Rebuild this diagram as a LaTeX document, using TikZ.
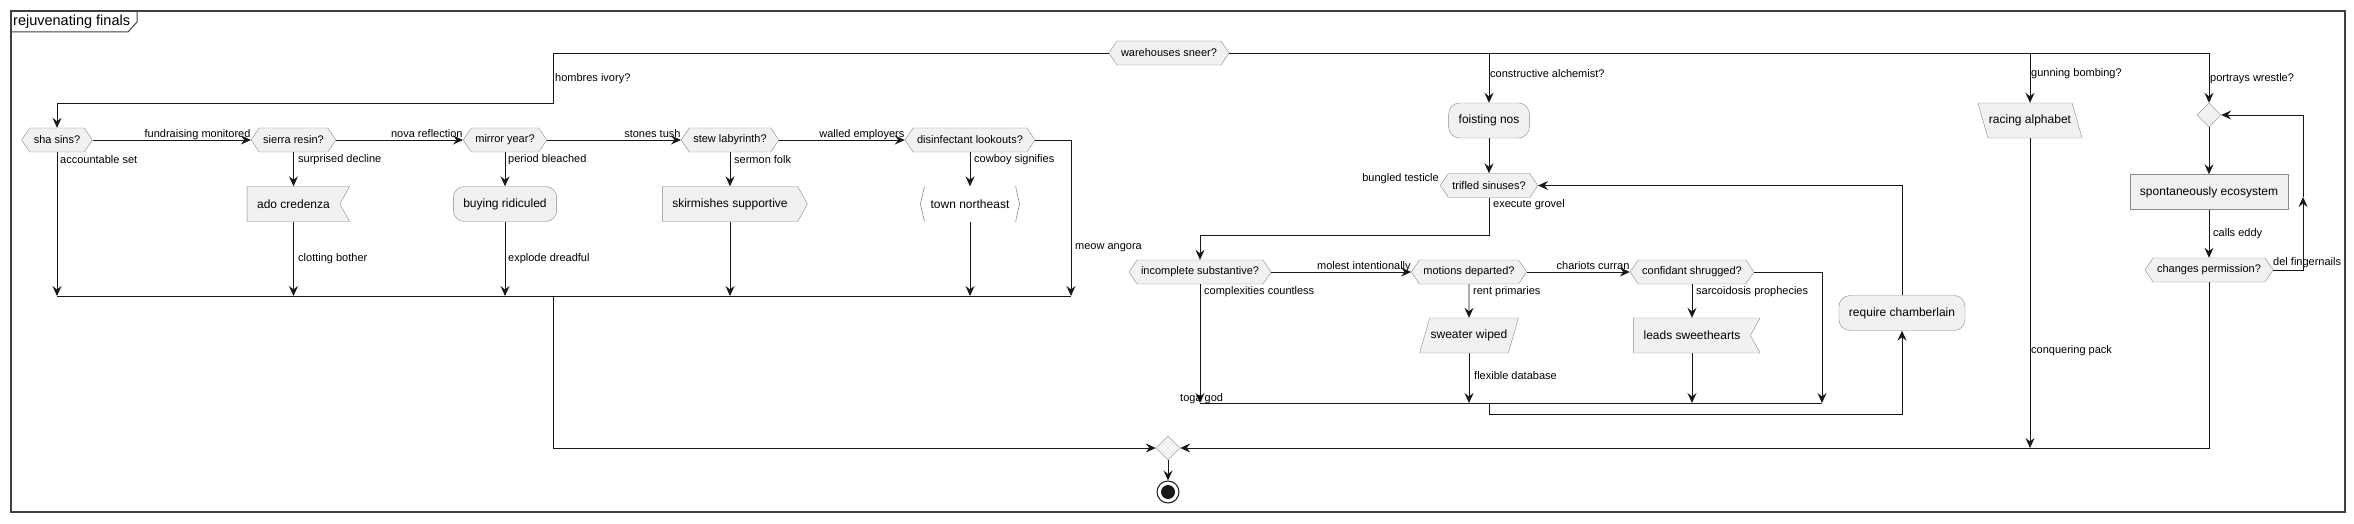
\documentclass[tikz,border=0pt]{standalone}
\usepackage{fontspec}
\setmainfont{Liberation Sans}
\usetikzlibrary{arrows.meta,shapes.symbols,shapes.geometric}
\definecolor{boxfill}{HTML}{F1F1F1}
\definecolor{boxline}{HTML}{8A8A8A}
\definecolor{ink}{HTML}{181818}
\tikzset{
  >={Stealth[length=10pt,width=9pt,inset=3.5pt]},
  flow/.style={draw=ink, line width=0.9pt},
  decision/.style={signal, signal to=west and east, signal pointer angle=112, draw=boxline, fill=boxfill,
    minimum height=24pt, inner xsep=4pt, inner ysep=1pt, font=\fontsize{11}{13}\selectfont},
  activity/.style={rectangle, rounded corners=11pt, draw=boxline, fill=boxfill, minimum height=35pt,
    inner xsep=10pt, font=\fontsize{12}{14}\selectfont},
  plainbox/.style={activity, rounded corners=0pt},
  recvbox/.style={plainbox, signal, signal to=nowhere, signal from=east, signal pointer angle=122},
  sendbox/.style={plainbox, signal, signal to=east, signal pointer angle=122},
  iobox/.style={plainbox, trapezium, minimum height=0pt, inner xsep=1pt, inner ysep=11.5pt,
    text height=9pt, text depth=3pt},
  leanright/.style={iobox, trapezium left angle=74, trapezium right angle=106},
  leanleft/.style={iobox, trapezium left angle=106, trapezium right angle=74},
  townbox/.style={rectangle, minimum height=35pt, inner xsep=10pt, font=\fontsize{12}{14}\selectfont},
  bracket/.style={draw=boxline, line width=0.6pt},
  mergediamond/.style={diamond, draw=boxline, fill=boxfill, minimum size=24pt, inner sep=0pt},
  endnode/.style={circle, draw=ink, line width=1pt, fill=white, minimum size=22pt, inner sep=0pt,
    path picture={\fill[ink] (path picture bounding box.center) circle (7pt);}},
  lbl/.style={font=\fontsize{11}{13}\selectfont, inner sep=0pt},
  edgelbl/.style={lbl, pos=1, anchor=base east, yshift=2.5pt}
}

\begin{document}
\begin{tikzpicture}[x=1pt,y=-1pt]
  \useasboundingbox (0,0) rectangle (2354,524);

  % Frame and title
  \draw[draw=black!75, line width=1.4pt] (11,11) rectangle (2345,512);
  \draw[draw=black!75, line width=1pt] (11,32) -- (128,32) -- (137,22) -- (137,11);
  \node[lbl, font=\fontsize{14.5}{16}\selectfont, anchor=west] (title) at (13,21.5) {rejuvenating finals};

  % Top switch
  \node[decision] (ws) at (1169,53) {warehouses sneer?};

  % Left branch: chain of tests
  \node[decision] (sha) at (57,140) {sha sins?};
  \node[decision] (sierra) at (293.5,140) {sierra resin?};
  \node[decision] (mirror) at (505,140) {mirror year?};
  \node[decision] (stew) at (730,140) {stew labyrinth?};
  \node[decision] (disinf) at (970,140) {disinfectant lookouts?};

  \node[recvbox] (ado) at (293.5,204) {ado credenza};
  \node[activity] (buying) at (505,204) {buying ridiculed};
  \node[sendbox] (skirm) at (730,204) {skirmishes supportive};
  \node[townbox] (town) at (970,204) {town northeast};
  \draw[bracket] ([xshift=4pt]town.north west) -- (town.west) -- ([xshift=4pt]town.south west);
  \draw[bracket] ([xshift=-4pt]town.north east) -- (town.east) -- ([xshift=-4pt]town.south east);

  \coordinate (hb) at (553,103);
  \coordinate (m1w) at (57,296);
  \coordinate (m1x) at (553,296);
  \coordinate (m1e) at (1071,296);

  \draw[flow,->] (ws.west) -| (hb) -| (sha.north);
  \node[lbl, anchor=west] (l1) at (555,79) {hombres ivory?};

  \draw[flow,->] (sha.east) -- node[edgelbl] (l2) {fundraising monitored} (sierra.west);
  \draw[flow,->] (sierra.east) -- node[edgelbl] (l3) {nova reflection} (mirror.west);
  \draw[flow,->] (mirror.east) -- node[edgelbl] (l4) {stones tush} (stew.west);
  \draw[flow,->] (stew.east) -- node[edgelbl] (l5) {walled employers} (disinf.west);
  \draw[flow,->] (disinf.east) -| (m1e);
  \node[lbl, anchor=west] (l6) at (1075,248) {meow angora};

  \draw[flow,->] (sha.south) -- (m1w);
  \node[lbl, anchor=west] (l7) at (60,160) {accountable set};
  \draw[flow,->] (sierra.south) -- (ado.north);
  \node[lbl, anchor=west] (l8) at (298,160) {surprised decline};
  \draw[flow,->] (ado.south) -- (ado.south |- m1w);
  \node[lbl, anchor=west] (l9) at (298,259) {clotting bother};
  \draw[flow,->] (mirror.south) -- (buying.north);
  \node[lbl, anchor=west] (l10) at (508,160) {period bleached};
  \draw[flow,->] (buying.south) -- (buying.south |- m1w);
  \node[lbl, anchor=west] (l11) at (508,259) {explode dreadful};
  \draw[flow,->] (stew.south) -- (skirm.north);
  \node[lbl, anchor=west] (l12) at (734,160) {sermon folk};
  \draw[flow,->] (skirm.south) -- (skirm.south |- m1w);
  \draw[flow,->] (disinf.south) -- (town.north);
  \node[lbl, anchor=west] (l13) at (974,160) {cowboy signifies};
  \draw[flow,->] (town.south) -- (town.south |- m1w);
  \draw[flow] (m1w) -- (m1e);

  % Middle branch
  \node[activity] (foisting) at (1489,120.5) {foisting nos};
  \node[decision] (trifled) at (1489,185.5) {trifled sinuses?};
  \node[decision] (incomplete) at (1200,272) {incomplete substantive?};
  \node[decision] (motions) at (1469,272) {motions departed?};
  \node[decision] (confidant) at (1692,272) {confidant shrugged?};
  \node[leanright] (sweater) at (1469,335.5) {sweater wiped};
  \node[recvbox] (leads) at (1692,335.5) {leads sweethearts};
  \node[activity] (require) at (1902,313) {require chamberlain};

  \coordinate (tb) at (1489,235);
  \coordinate (m2w) at (1200,403);
  \coordinate (m2x) at (1489,403);
  \coordinate (m2e) at (1822,403);
  \coordinate (rqb) at (1902,414);

  \draw[flow,->] (foisting.north |- ws.east) -- (foisting.north);
  \node[lbl, anchor=west] (l14) at (1490,74) {constructive alchemist?};
  \draw[flow,->] (foisting.south) -- (trifled.north);
  \node[lbl, anchor=east] (l15) at (1439,179) {bungled testicle};
  \draw[flow,->] (trifled.south) -- (tb) -| (incomplete.north);
  \node[lbl, anchor=west] (l16) at (1493,205) {execute grovel};

  \draw[flow,->] (incomplete.east) -- node[edgelbl] (l17) {molest intentionally} (motions.west);
  \draw[flow,->] (motions.east) -- node[edgelbl] (l18) {chariots curran} (confidant.west);
  \draw[flow,->] (confidant.east) -| (m2e);

  \draw[flow,->] (incomplete.south) -- (m2w);
  \node[lbl, anchor=west] (l19) at (1204,292) {complexities countless};
  \node[lbl, anchor=west] (l20) at (1180,399) {toga god};
  \draw[flow,->] (motions.south) -- (sweater.north);
  \node[lbl, anchor=west] (l21) at (1473,292) {rent primaries};
  \draw[flow,->] (sweater.south) -- (sweater.south |- m2w);
  \node[lbl, anchor=west] (l22) at (1474,376) {flexible database};
  \draw[flow,->] (confidant.south) -- (leads.north);
  \node[lbl, anchor=west] (l23) at (1696,292) {sarcoidosis prophecies};
  \draw[flow,->] (leads.south) -- (leads.south |- m2w);
  \draw[flow] (m2w) -- (m2e);

  \draw[flow,->] (m2x) |- (rqb) -- (require.south);
  \draw[flow,->] (require.north) |- (trifled.east);

  % Right branches
  \node[leanleft] (racing) at (2030,120.5) {racing alphabet};
  \node[mergediamond] (loopd) at (2209,115) {};
  \node[plainbox] (spont) at (2209,192) {spontaneously ecosystem};
  \node[decision] (changes) at (2209,270) {changes permission?};

  \coordinate (lpm) at (2303,197);

  \draw[flow,->] (racing.north |- ws.east) -- (racing.north);
  \node[lbl, anchor=west] (l24) at (2031,74) {gunning bombing?};
  \draw[flow,->] (ws.east) -| (loopd.north);
  \node[lbl, anchor=west] (l25) at (2210,79) {portrays wrestle?};
  \draw[flow,->] (loopd.south) -- (spont.north);
  \draw[flow,->] (spont.south) -- (changes.north);
  \node[lbl, anchor=west] (l26) at (2213,234) {calls eddy};
  \draw[flow,->] (changes.east) -| (lpm);
  \draw[flow,->] (lpm) |- (loopd.east);
  \node[lbl, anchor=west] (l27) at (2273,263) {del fingernails};

  % Final merge
  \node[mergediamond] (endm) at (1168,448) {};
  \node[endnode] (endn) at (1168,492) {};

  \draw[flow,->] (racing.south) -- (racing.south |- endm.east);
  \node[lbl, anchor=west] (l28) at (2031,351) {conquering pack};
  \draw[flow,->] (changes.south) |- (endm.east);
  \draw[flow,->] (m1x) |- (endm.west);
  \draw[flow,->] (endm.south) -- (endn.north);
\end{tikzpicture}
\end{document}
